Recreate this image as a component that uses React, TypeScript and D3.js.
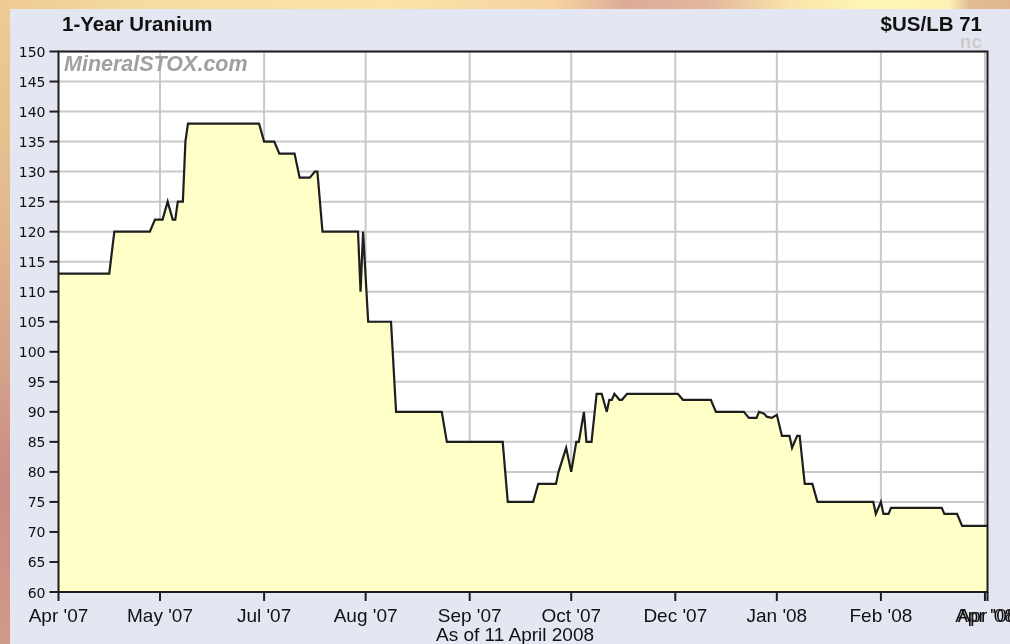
import * as d3 from 'd3'
import { useEffect, useRef } from 'react'

const WIDTH = 1010
const HEIGHT = 644
const MARGIN = { LEFT: 58.5, RIGHT: 22.5, TOP: 51.5, BOTTOM: 52 }

// uranium spot price, $US/lb
const priceDates = [
  '2007-04-11', '2007-05-01', '2007-05-03', '2007-05-17', '2007-05-19', '2007-05-22', '2007-05-24',
  '2007-05-26', '2007-05-27', '2007-05-28', '2007-05-30', '2007-05-31', '2007-06-01', '2007-06-29',
  '2007-07-01', '2007-07-05', '2007-07-07', '2007-07-13', '2007-07-15', '2007-07-19', '2007-07-21',
  '2007-07-22', '2007-07-24', '2007-08-07', '2007-08-08', '2007-08-09', '2007-08-11', '2007-08-20',
  '2007-08-22', '2007-09-09', '2007-09-11', '2007-10-03', '2007-10-05', '2007-10-15', '2007-10-17',
  '2007-10-24', '2007-10-25', '2007-10-28', '2007-10-30', '2007-11-01', '2007-11-02', '2007-11-04',
  '2007-11-05', '2007-11-07', '2007-11-09', '2007-11-11', '2007-11-13', '2007-11-14', '2007-11-15',
  '2007-11-16', '2007-11-18', '2007-11-19', '2007-11-21', '2007-12-11', '2007-12-13', '2007-12-24',
  '2007-12-26', '2008-01-06', '2008-01-08', '2008-01-11', '2008-01-12', '2008-01-14', '2008-01-15',
  '2008-01-17', '2008-01-19', '2008-01-21', '2008-01-24', '2008-01-25', '2008-01-27', '2008-01-28',
  '2008-01-30', '2008-02-02', '2008-02-04', '2008-02-26', '2008-02-27', '2008-02-29', '2008-03-01',
  '2008-03-03', '2008-03-04', '2008-03-24', '2008-03-25', '2008-03-30', '2008-04-01', '2008-04-11',
]
const prices = [
  113, 113, 120, 120, 122, 122, 125,
  122, 122, 125, 125, 135, 138, 138,
  135, 135, 133, 133, 129, 129, 130,
  130, 120, 120, 110, 120, 105, 105,
  90, 90, 85, 85, 75, 75, 78,
  78, 80, 84, 80, 85, 85, 90,
  85, 85, 93, 93, 90, 92, 92,
  93, 92, 92, 93, 93, 92, 92,
  90, 90, 89, 89, 90, 89.7, 89.2,
  89, 89.5, 86, 86, 84, 86, 86,
  78, 78, 75, 75, 73, 75, 73,
  73, 74, 74, 73, 73, 71, 71,
]

const tickDates = [
  '2007-04-11', '2007-05-21', '2007-07-01', '2007-08-10', '2007-09-20', '2007-10-30',
  '2007-12-10', '2008-01-19', '2008-02-29', '2008-04-10', '2008-04-11',
]
const tickLabels = [
  "Apr '07", "May '07", "Jul '07", "Aug '07", "Sep '07", "Oct '07",
  "Dec '07", "Jan '08", "Feb '08", "Apr '08", "Apr '08",
]
const yTicks = [60, 65, 70, 75, 80, 85, 90, 95, 100, 105, 110, 115, 120, 125, 130, 135, 140, 145, 150]

const parse = d3.utcParse('%Y-%m-%d')

export default function App() {
  const ref = useRef<SVGSVGElement>(null)

  useEffect(() => {
    const svg = d3.select(ref.current)
    svg.selectAll('*').remove()

    const data = priceDates.map((d, i) => ({ date: parse(d) as Date, value: prices[i] }))
    const ticks = tickDates.map(d => parse(d) as Date)

    const x = d3.scaleUtc()
      .domain([parse('2007-04-11') as Date, parse('2008-04-11') as Date])
      .range([MARGIN.LEFT, WIDTH - MARGIN.RIGHT])
    const y = d3.scaleLinear()
      .domain([60, 150])
      .range([HEIGHT - MARGIN.BOTTOM, MARGIN.TOP])

    // blurry page background behind the panel
    const defs = svg.append('defs')
    const gTop = defs.append('linearGradient').attr('id', 'bgTop')
    ;[['0%', '#eecb93'], ['15%', '#f6dca2'], ['38%', '#fbe3a8'], ['55%', '#f6d3a0'], ['62%', '#dcab98'],
      ['70%', '#e2b69c'], ['78%', '#f9e3aa'], ['86%', '#fff6b6'], ['94%', '#fdf2b3'], ['96%', '#e2bb94'], ['100%', '#dfb690']]
      .forEach(([o, c]) => gTop.append('stop').attr('offset', o).attr('stop-color', c))
    const gLeft = defs.append('linearGradient').attr('id', 'bgLeft')
      .attr('x1', 0).attr('y1', 0).attr('x2', 0).attr('y2', 1)
    ;[['0%', '#eecb93'], ['30%', '#e3bb8e'], ['55%', '#d6a48a'], ['75%', '#c98b85'], ['100%', '#d09a88']]
      .forEach(([o, c]) => gLeft.append('stop').attr('offset', o).attr('stop-color', c))

    svg.append('rect').attr('width', WIDTH).attr('height', 9).attr('fill', 'url(#bgTop)')
    svg.append('rect').attr('y', 9).attr('width', 10).attr('height', HEIGHT - 9).attr('fill', 'url(#bgLeft)')
    svg.append('rect').attr('x', 10).attr('y', 9).attr('width', WIDTH - 10).attr('height', HEIGHT - 9)
      .attr('fill', '#e4e6f1')

    // plot background
    svg.append('rect')
      .attr('x', MARGIN.LEFT).attr('y', MARGIN.TOP)
      .attr('width', WIDTH - MARGIN.LEFT - MARGIN.RIGHT)
      .attr('height', HEIGHT - MARGIN.TOP - MARGIN.BOTTOM)
      .attr('fill', '#ffffff')

    // grid
    svg.append('g')
      .selectAll('line')
      .data(yTicks)
      .enter()
      .append('line')
      .attr('x1', MARGIN.LEFT).attr('x2', WIDTH - MARGIN.RIGHT)
      .attr('y1', d => y(d)).attr('y2', d => y(d))
      .attr('stroke', '#c9c9c9').attr('stroke-width', 2)
    svg.append('g')
      .selectAll('line')
      .data(ticks.slice(1, -1))
      .enter()
      .append('line')
      .attr('x1', d => x(d)).attr('x2', d => x(d))
      .attr('y1', MARGIN.TOP).attr('y2', HEIGHT - MARGIN.BOTTOM)
      .attr('stroke', '#c9c9c9').attr('stroke-width', 2)

    // watermark
    svg.append('text')
      .attr('x', 64).attr('y', 70.5)
      .style('font-family', '"Liberation Sans", Arial, sans-serif')
      .style('font-size', '21.5px')
      .style('font-weight', 'bold')
      .style('font-style', 'italic')
      .attr('fill', '#a0a0a0')
      .text('MineralSTOX.com')

    // area + line
    const area = d3.area<{ date: Date, value: number }>()
      .x(d => x(d.date))
      .y0(y(60))
      .y1(d => y(d.value))
    const line = d3.line<{ date: Date, value: number }>()
      .x(d => x(d.date))
      .y(d => y(d.value))

    svg.append('path').datum(data).attr('d', area).attr('fill', '#ffffc8')
    svg.append('path').datum(data).attr('d', line)
      .attr('fill', 'none').attr('stroke', '#1e1e1e').attr('stroke-width', 2.2)
      .attr('stroke-linejoin', 'miter')

    // frame
    svg.append('rect')
      .attr('x', MARGIN.LEFT).attr('y', MARGIN.TOP)
      .attr('width', WIDTH - MARGIN.LEFT - MARGIN.RIGHT)
      .attr('height', HEIGHT - MARGIN.TOP - MARGIN.BOTTOM)
      .attr('fill', 'none').attr('stroke', '#1e1e1e').attr('stroke-width', 2)

    // y axis
    const gy = svg.append('g')
    gy.selectAll('line')
      .data(yTicks)
      .enter()
      .append('line')
      .attr('x1', MARGIN.LEFT - 9).attr('x2', MARGIN.LEFT)
      .attr('y1', d => y(d)).attr('y2', d => y(d))
      .attr('stroke', '#1e1e1e').attr('stroke-width', 2)
    gy.selectAll('text')
      .data(yTicks)
      .enter()
      .append('text')
      .attr('x', 45.5)
      .attr('y', d => y(d) + 5.5)
      .attr('text-anchor', 'end')
      .style('font-family', '"DejaVu Sans", Verdana, sans-serif')
      .style('font-size', '14px')
      .attr('fill', '#111')
      .text(d => d)

    // x axis
    const gx = svg.append('g')
    gx.selectAll('line')
      .data(ticks)
      .enter()
      .append('line')
      .attr('x1', d => x(d)).attr('x2', d => x(d))
      .attr('y1', HEIGHT - MARGIN.BOTTOM).attr('y2', HEIGHT - MARGIN.BOTTOM + 9)
      .attr('stroke', '#1e1e1e').attr('stroke-width', 2)
    gx.selectAll('text')
      .data(ticks)
      .enter()
      .append('text')
      .attr('x', d => x(d))
      .attr('y', 622)
      .attr('text-anchor', 'middle')
      .style('font-family', '"Liberation Sans", Arial, sans-serif')
      .style('font-size', '19px')
      .attr('fill', '#111')
      .text((d, i) => tickLabels[i])

    svg.append('text')
      .attr('x', 515).attr('y', 641)
      .attr('text-anchor', 'middle')
      .style('font-family', '"Liberation Sans", Arial, sans-serif')
      .style('font-size', '19px')
      .attr('fill', '#111')
      .text('As of 11 April 2008')

    // header
    svg.append('text')
      .attr('x', 62).attr('y', 30.5)
      .style('font-family', '"Liberation Sans", Arial, sans-serif')
      .style('font-size', '20.5px')
      .style('font-weight', 'bold')
      .attr('fill', '#111')
      .text('1-Year Uranium')
    svg.append('text')
      .attr('x', 982).attr('y', 30.5)
      .attr('text-anchor', 'end')
      .style('font-family', '"Liberation Sans", Arial, sans-serif')
      .style('font-size', '20.5px')
      .style('font-weight', 'bold')
      .attr('fill', '#111')
      .text('$US/LB 71')
    svg.append('text')
      .attr('x', 982).attr('y', 47.5)
      .attr('text-anchor', 'end')
      .style('font-family', '"Liberation Sans", Arial, sans-serif')
      .style('font-size', '19px')
      .style('font-weight', 'bold')
      .attr('fill', '#cccccc')
      .text('nc')
  }, [])

  return <div style={{ position: 'fixed', left: 0, top: 0 }}>
    <svg ref={ref} width={WIDTH} height={HEIGHT} style={{ display: 'block' }}></svg>
  </div>
}
